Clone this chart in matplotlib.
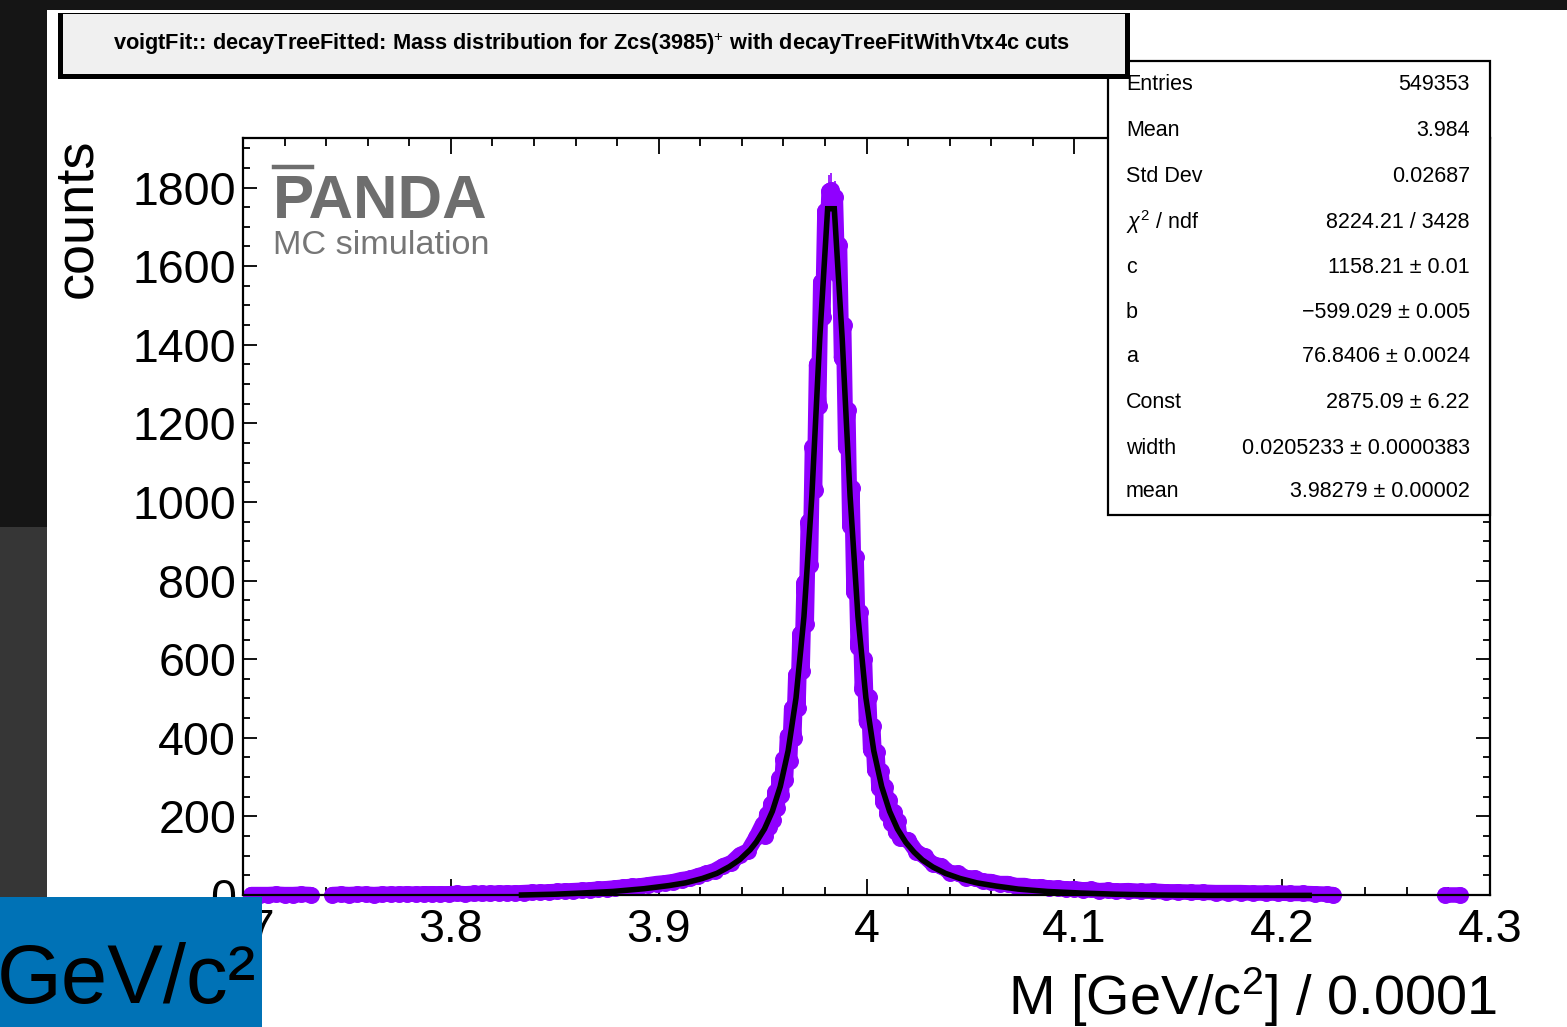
import numpy as np
import matplotlib
matplotlib.use("Agg")
import matplotlib.pyplot as plt
from matplotlib.patches import Rectangle
from matplotlib.lines import Line2D

plt.rcParams['font.family'] = ['Liberation Sans', 'DejaVu Sans']
plt.rcParams['mathtext.fontset'] = 'custom'
plt.rcParams['mathtext.rm'] = 'Liberation Sans'
plt.rcParams['mathtext.it'] = 'Liberation Sans:italic'
plt.rcParams['mathtext.bf'] = 'Liberation Sans:bold'

# ---------------------------------------------------------------- data
# reconstructed invariant-mass spectrum (bin centre [GeV/c^2], counts)
mass = [3.704, 3.708, 3.712, 3.716, 3.720, 3.724, 3.728, 3.7325,
        3.743, 3.747, 3.751, 3.755, 3.759, 3.763, 3.767, 3.771, 3.775, 3.779,
        3.783, 3.787, 3.791, 3.795, 3.799, 3.803, 3.807, 3.811, 3.815, 3.819,
        3.823, 3.827, 3.831, 3.835, 3.839, 3.843, 3.847, 3.851, 3.855, 3.859,
        3.863, 3.867, 3.871, 3.875, 3.879, 3.883, 3.887, 3.891, 3.895, 3.899,
        3.903, 3.907, 3.911, 3.915, 3.919, 3.923, 3.927, 3.931, 3.935, 3.939,
        3.943, 3.947,
        3.950, 3.951, 3.952, 3.953, 3.954, 3.955, 3.956, 3.957, 3.958, 3.959,
        3.960, 3.961, 3.962, 3.963, 3.964, 3.965, 3.966, 3.967, 3.968, 3.969,
        3.970, 3.971, 3.972, 3.973, 3.974, 3.975, 3.976, 3.977, 3.978, 3.979,
        3.980, 3.981, 3.982, 3.983, 3.984, 3.985, 3.986, 3.987, 3.988, 3.989,
        3.990, 3.991, 3.992, 3.993, 3.994, 3.995, 3.996, 3.997, 3.998, 3.999,
        4.000, 4.001, 4.002, 4.003, 4.004, 4.005, 4.006, 4.007, 4.008, 4.009,
        4.010, 4.011, 4.012, 4.013, 4.014, 4.015, 4.016,
        4.020, 4.024, 4.028, 4.032, 4.036, 4.040, 4.044, 4.048, 4.052, 4.056,
        4.060, 4.064, 4.068, 4.072, 4.076, 4.080, 4.084, 4.088, 4.092, 4.096,
        4.100, 4.104, 4.108, 4.112, 4.116, 4.120, 4.126, 4.132, 4.138, 4.144,
        4.150, 4.156, 4.162, 4.168, 4.174, 4.180, 4.186, 4.192, 4.198, 4.204,
        4.210, 4.216, 4.2215, 4.2245,
        4.2785, 4.2855]
counts = [1, 1, 1, 2, 1, 1, 2, 1,
          1, 2, 1, 2, 2, 1, 2, 2, 2, 3,
          2, 3, 3, 3, 3, 4, 3, 4, 4, 4,
          5, 5, 5, 6, 7, 7, 8, 9, 10, 11,
          12, 13, 15, 16, 18, 20, 22, 23, 26, 29,
          31, 34, 39, 42, 49, 55, 62, 74, 82, 102,
          112, 148,
          180, 150, 205, 172, 232, 192, 262, 222, 298, 254,
          345, 292, 405, 340, 475, 400, 560, 475, 665, 570,
          795, 690, 950, 840, 1140, 1030, 1350, 1245, 1560, 1470,
          1740, 1655, 1790, 1794, 1720, 1775, 1580, 1655, 1365, 1450,
          1140, 1235, 940, 1035, 770, 860, 630, 720, 525, 600,
          440, 505, 370, 430, 318, 365, 272, 315, 236, 276,
          206, 242, 182, 212, 160, 188, 145,
          140, 110, 98, 78, 74, 57, 55, 44, 43, 35,
          34, 29, 29, 24, 24, 20, 21, 17, 18, 15,
          16, 13, 14, 11, 12, 10, 11, 9, 10, 8,
          8, 7, 7, 6, 6, 6, 5, 5, 5, 4,
          4, 3, 2, 1,
          1, 1]

# sampled Voigt + pol2 fit curve
fit_x = [3.834, 3.850, 3.863, 3.878, 3.893, 3.905, 3.913, 3.921, 3.928, 3.934,
         3.939, 3.944, 3.947, 3.9509, 3.9547, 3.9585, 3.9623, 3.9661, 3.9699,
         3.9737, 3.9775, 3.9813, 3.9845, 3.9883, 3.9921, 3.9959, 3.9997, 4.0035,
         4.0073, 4.0111, 4.0149, 4.0189, 4.0229, 4.0269, 4.032, 4.038, 4.045,
         4.053, 4.062, 4.073, 4.087, 4.103, 4.120, 4.140, 4.165, 4.190, 4.213]
fit_y = [0, 2, 5, 9, 16, 24, 31, 42, 55, 72,
         90, 115, 135, 168, 213, 276, 367, 502, 708,
         1015, 1416, 1746, 1746, 1416, 1015, 708, 502, 367,
         276, 213, 168, 134, 109, 89, 71, 55, 42,
         31, 23, 15, 9, 5, 2, 0, -1, -1, -1]

x_ticks = [3.7, 3.8, 3.9, 4.0, 4.1, 4.2, 4.3]
x_tick_labels = ['3.7', '3.8', '3.9', '4', '4.1', '4.2', '4.3']
y_ticks = [0, 200, 400, 600, 800, 1000, 1200, 1400, 1600, 1800]

stat_names = ['Entries', 'Mean', 'Std Dev', r'$\chi^{2}$ / ndf', 'c', 'b', 'a',
              'Const', 'width', 'mean']
stat_values = ['549353', '3.984', '0.02687', '8224.21 / 3428',
               '1158.21 \u00b1 0.01', '\u2212599.029 \u00b1 0.005',
               '76.8406 \u00b1 0.0024', '2875.09 \u00b1 6.22',
               '0.0205233 \u00b1 0.0000383', '3.98279 \u00b1 0.00002']

title = (r'voigtFit:: decayTreeFitted: Mass distribution for Zcs(3985)$^{+}$'
         ' with decayTreeFitWithVtx4c cuts')

# ---------------------------------------------------------------- layout
W, H = 1567, 1027
fig = plt.figure(figsize=(W / 100, H / 100), dpi=100)
fig.patch.set_facecolor('#151515')


def fx(px):
    return px / W


def fy(py):
    return 1 - py / H


def rect(x0, y0, x1, y1, **kw):
    r = Rectangle((fx(x0), fy(y1)), fx(x1) - fx(x0), fy(y0) - fy(y1),
                  transform=fig.transFigure, **kw)
    fig.add_artist(r)
    return r


# canvas and surrounding backdrop
rect(0, 527, 47, 1027, facecolor='#363636', edgecolor='none', zorder=0)
rect(47, 10, W, H, facecolor='white', edgecolor='none', zorder=0)

ax = fig.add_axes([fx(243), fy(895), fx(1490) - fx(243), fy(138) - fy(895)])
ax.set_facecolor('none')
ax.set_xlim(3.7, 4.3)
ax.set_ylim(0, 1926)

purple = '#9000ff'
mass_a = np.array(mass)
counts_a = np.array(counts, dtype=float)

# draw the markers as continuous bands between gaps in the spectrum
breaks = np.where(np.diff(mass_a) > 0.008)[0] + 1
for seg_x, seg_y in zip(np.split(mass_a, breaks), np.split(counts_a, breaks)):
    ax.plot(seg_x, seg_y, color=purple, lw=11.2, solid_capstyle='round',
            solid_joinstyle='round', clip_on=False, zorder=2)
ax.errorbar(mass_a, counts_a, yerr=np.sqrt(counts_a), fmt='o', color=purple,
            ms=11.2, mec=purple, elinewidth=1.2, capsize=0, clip_on=False,
            zorder=2)

ax.plot(fit_x, fit_y, color='black', lw=4.0, solid_joinstyle='miter',
        clip_on=False, zorder=3)

for s in ax.spines.values():
    s.set_linewidth(1.6)
    s.set_zorder(4)

ax.set_xticks(x_ticks)
ax.set_xticklabels(x_tick_labels)
ax.set_xticks(np.arange(3.70, 4.3001, 0.02), minor=True)
ax.set_yticks(y_ticks)
ax.set_yticks(np.arange(0, 1926, 50), minor=True)
ax.tick_params(axis='both', which='both', direction='in', top=True,
               right=True, width=1.3, colors='black', labelsize=33.5)
ax.tick_params(axis='x', which='major', length=11.5, pad=9)
ax.tick_params(axis='x', which='minor', length=5.5)
ax.tick_params(axis='y', which='major', length=10, pad=5)
ax.tick_params(axis='y', which='minor', length=5)

# axis titles
fig.text(fx(1497), fy(1015), r'M [GeV/c$^{2}$] / 0.0001', fontsize=40.2,
         ha='right', va='baseline')
fig.text(fx(102), fy(138), 'counts', fontsize=39, rotation=90,
         ha='right', va='top', rotation_mode='default')

# experiment label
fig.text(fx(273), fy(218), 'PANDA', fontsize=44.4, fontweight='bold',
         color='#6e6e6e', ha='left', va='baseline')
fig.add_artist(Line2D([fx(274), fx(312)], [fy(167), fy(167)],
                      color='#6e6e6e', lw=3.2, transform=fig.transFigure))
fig.text(fx(273), fy(254), 'MC simulation', fontsize=24.7, color='#767676',
         ha='left', va='baseline')

# statistics box
rect(1108, 61, 1490, 515, facecolor='white', edgecolor='black', lw=1.6,
     zorder=5)
row_y = [84, 130, 176, 222, 268, 312, 357, 403, 449, 492]
for ry, name, val in zip(row_y, stat_names, stat_values):
    fig.text(fx(1126), fy(ry), name, fontsize=15.5, ha='left', va='center',
             zorder=6)
    fig.text(fx(1470), fy(ry), val, fontsize=15.5, ha='right', va='center',
             zorder=6)

# title box with shadow
rect(58, 13, 1130, 79, facecolor='black', edgecolor='none', zorder=7)
rect(63, 14, 1125, 74, facecolor='#f0f0f0', edgecolor='none', zorder=8)
fig.text(fx(592), fy(44), title, fontsize=15.7, fontweight='bold',
         ha='center', va='center', zorder=9)

# unit badge
rect(0, 897, 262, 1027, facecolor='#0072b6', edgecolor='none', zorder=10)
fig.text(fx(-3), fy(1003), 'GeV/c\u00b2', fontsize=60, ha='left',
         va='baseline', color='black', zorder=11)

fig.savefig('out.png', dpi=100, facecolor=fig.get_facecolor())
